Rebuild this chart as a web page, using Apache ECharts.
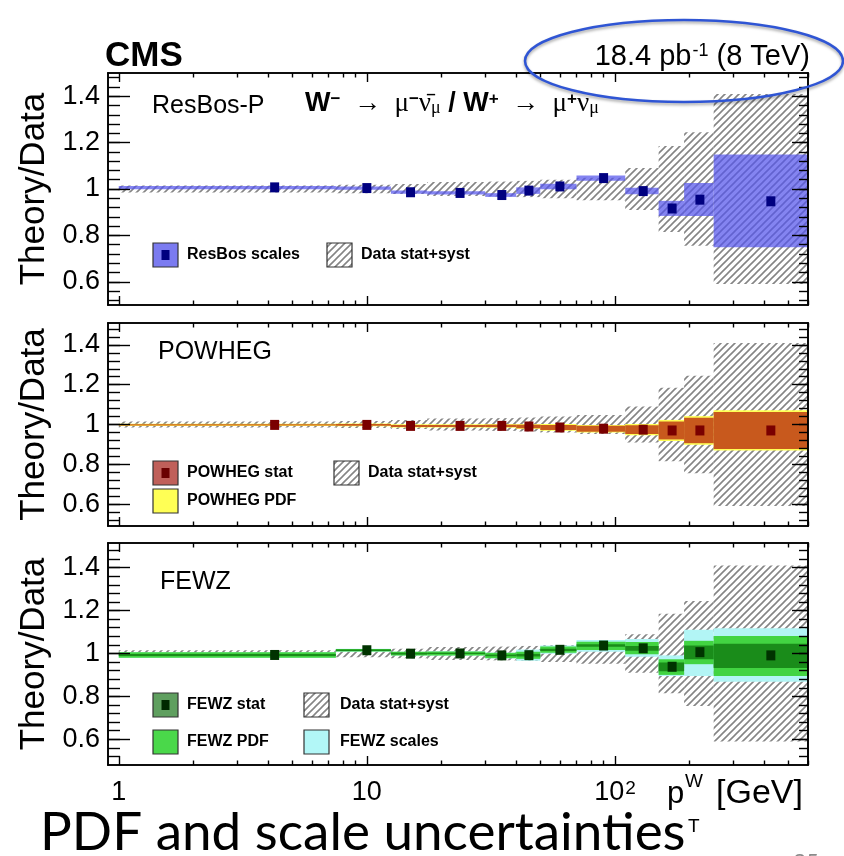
<!DOCTYPE html>
<html>
<head>
<meta charset="utf-8">
<script src="https://cdn.jsdelivr.net/npm/echarts@6/dist/echarts.min.js"></script>
<style>
  html, body { margin: 0; padding: 0; background: #ffffff; }
  #chart { width: 844px; height: 856px; }
</style>
</head>
<body>
<div id="chart"></div>
<script>
// W pT bin edges [GeV]
const binEdges = [1, 7.5, 12.5, 17.5, 30, 40, 50, 70, 110, 150, 190, 250, 600];

// Relative data uncertainty (stat+syst), half width around Theory/Data = 1
const dataRelErr = [0.015, 0.018, 0.022, 0.03, 0.032, 0.035, 0.04, 0.048, 0.09, 0.185, 0.245, 0.41];

// ResBos-P / data
const resbosRatio   = [1.007, 1.004, 0.986, 0.983, 0.974, 0.993, 1.011, 1.047, 0.991, 0.916, 0.954, 0.947];
const resbosScaleLo = [0.999, 0.997, 0.979, 0.976, 0.966, 0.979, 0.999, 1.036, 0.977, 0.884, 0.884, 0.749];
const resbosScaleHi = [1.013, 1.011, 0.993, 0.990, 0.982, 1.007, 1.023, 1.058, 1.005, 0.949, 1.026, 1.149];

// POWHEG / data
const powhegRatio   = [0.998, 0.998, 0.993, 0.993, 0.993, 0.990, 0.985, 0.979, 0.974, 0.970, 0.970, 0.970];
const powhegStatErr = [0.003, 0.004, 0.005, 0.005, 0.006, 0.009, 0.013, 0.015, 0.022, 0.045, 0.064, 0.093];
const powhegPdfErr  = [0.006, 0.007, 0.008, 0.008, 0.009, 0.012, 0.017, 0.019, 0.028, 0.053, 0.072, 0.101];

// FEWZ / data
const fewzRatio   = [0.993, 1.015, 0.999, 1.000, 0.991, 0.992, 1.017, 1.037, 1.024, 0.938, 1.006, 0.991];
const fewzStatLo  = [0.988, 1.012, 0.995, 0.997, 0.987, 0.986, 1.012, 1.031, 1.013, 0.917, 0.973, 0.932];
const fewzStatHi  = [0.998, 1.018, 1.003, 1.003, 0.995, 0.998, 1.022, 1.043, 1.035, 0.958, 1.037, 1.045];
const fewzPdfLo   = [0.980, 1.009, 0.990, 0.991, 0.978, 0.975, 1.003, 1.016, 0.996, 0.900, 0.950, 0.895];
const fewzPdfHi   = [1.006, 1.021, 1.008, 1.009, 1.003, 1.008, 1.032, 1.055, 1.053, 0.973, 1.059, 1.082];
const fewzScaleLo = [0.980, 1.008, 0.990, 0.991, 0.977, 0.966, 0.999, 1.008, 0.985, 0.895, 0.895, 0.868];
const fewzScaleHi = [1.006, 1.022, 1.008, 1.010, 1.004, 1.018, 1.037, 1.063, 1.068, 0.991, 1.111, 1.118];

// Axis ticks and labels
const xTickValues = [1, 10, 100];
const xTickLabels = ['1', '10', '10{s|2}'];
const yTickValues = [0.6, 0.8, 1.0, 1.2, 1.4];
const yTickLabels = ['0.6', '0.8', '1', '1.2', '1.4'];

const FONT = '"Liberation Sans", Arial, Helvetica, sans-serif';
const SERIF = '"Liberation Serif", "DejaVu Serif", serif';
const X_MIN = Math.log10(0.905);
const X_MAX = Math.log10(600);
const LEFT = 108, RIGHT = 36;
const panels = [
  { top: 73,  height: 232, yMin: 0.5,  yMax: 1.5 },
  { top: 323, height: 203, yMin: 0.49, yMax: 1.51 },
  { top: 543, height: 222, yMin: 0.48, yMax: 1.515 }
];

// minor tick positions on the log pT axis (2..9 per decade)
const xMajor = xTickValues.map(v => Math.log10(v));
const xMinor = [];
[1, 10, 100].forEach(d => { for (let k = 2; k <= 9; k++) { if (k * d <= 600) xMinor.push(Math.log10(k * d)); } });
const yMinor = [];
for (let k = 13; k <= 37; k++) yMinor.push(Math.round(k * 4) / 100);

// diagonal hatch pattern for the data uncertainty
function makeHatch(color, step, lw) {
  const c = document.createElement('canvas');
  c.width = step; c.height = step;
  const ctx = c.getContext('2d');
  ctx.strokeStyle = color;
  ctx.lineWidth = lw;
  ctx.beginPath();
  ctx.moveTo(-1, step + 1); ctx.lineTo(step + 1, -1);
  ctx.moveTo(-step / 2 - 1, step / 2 + 1); ctx.lineTo(step / 2 + 1, -step / 2 - 1);
  ctx.moveTo(step / 2 - 1, step * 1.5 + 1); ctx.lineTo(step * 1.5 + 1, step / 2 - 1);
  ctx.stroke();
  return c;
}
const hatchCanvas = makeHatch('#858585', 7, 1.6);
const hatchFill = { image: hatchCanvas, repeat: 'repeat' };

const tickStyle = { color: '#000', width: 1.4 };
const lineStyle = { color: '#000', width: 1.6 };

function xAxesFor(g, withLabels) {
  const base = {
    gridIndex: g, type: 'value', min: X_MIN, max: X_MAX, z: 10,
    splitLine: { show: false },
    axisLine: { show: true, onZero: false, lineStyle: lineStyle }
  };
  const noLabel = { show: false };
  const bottomMajor = Object.assign({}, base, {
    position: 'bottom',
    axisTick: { show: true, inside: true, length: 9, lineStyle: tickStyle, customValues: xMajor },
    axisLabel: withLabels ? {
      show: true, customValues: xMajor, margin: 14,
      fontFamily: FONT, fontSize: 27, color: '#000',
      formatter: v => {
        const i = xMajor.findIndex(t => Math.abs(t - v) < 1e-6);
        return i >= 0 ? xTickLabels[i] : '';
      },
      rich: { s: { fontFamily: FONT, fontSize: 19, verticalAlign: 'top', padding: [0, 0, 0, 1] } }
    } : noLabel
  });
  const bottomMinor = Object.assign({}, base, {
    position: 'bottom',
    axisTick: { show: true, inside: true, length: 4.5, lineStyle: tickStyle, customValues: xMinor },
    axisLabel: noLabel
  });
  const topMajor = Object.assign({}, base, {
    position: 'top',
    axisTick: { show: true, inside: true, length: 9, lineStyle: tickStyle, customValues: xMajor },
    axisLabel: noLabel
  });
  const topMinor = Object.assign({}, base, {
    position: 'top',
    axisTick: { show: true, inside: true, length: 4.5, lineStyle: tickStyle, customValues: xMinor },
    axisLabel: noLabel
  });
  return [bottomMajor, bottomMinor, topMajor, topMinor];
}

function yAxesFor(g) {
  const p = panels[g];
  const base = {
    gridIndex: g, type: 'value', min: p.yMin, max: p.yMax, z: 10,
    splitLine: { show: false },
    axisLine: { show: true, onZero: false, lineStyle: lineStyle }
  };
  const noLabel = { show: false };
  const leftMajor = Object.assign({}, base, {
    position: 'left',
    name: 'Theory/Data', nameLocation: 'middle', nameGap: 56, nameRotate: 90,
    nameTextStyle: { fontFamily: FONT, fontSize: 35, color: '#000' },
    axisTick: { show: true, inside: true, length: 22, lineStyle: tickStyle, customValues: yTickValues },
    axisLabel: {
      show: true, customValues: yTickValues, margin: 8,
      fontFamily: FONT, fontSize: 27, color: '#000',
      formatter: v => {
        const i = yTickValues.findIndex(t => Math.abs(t - v) < 1e-6);
        return i >= 0 ? yTickLabels[i] : '';
      }
    }
  });
  const leftMinor = Object.assign({}, base, {
    position: 'left',
    axisTick: { show: true, inside: true, length: 12, lineStyle: tickStyle, customValues: yMinor },
    axisLabel: noLabel
  });
  const rightMajor = Object.assign({}, base, {
    position: 'right',
    axisTick: { show: true, inside: true, length: 16, lineStyle: tickStyle, customValues: yTickValues },
    axisLabel: noLabel
  });
  const rightMinor = Object.assign({}, base, {
    position: 'right',
    axisTick: { show: true, inside: true, length: 9, lineStyle: tickStyle, customValues: yMinor },
    axisLabel: noLabel
  });
  return [leftMajor, leftMinor, rightMajor, rightMinor];
}

// per-bin rectangles [log x0, log x1, y0, y1]
function binRects(lo, hi) {
  return lo.map((v, i) => [Math.log10(binEdges[i]), Math.log10(binEdges[i + 1]), v, hi[i]]);
}
function bandSeries(g, lo, hi, fill, z) {
  return {
    type: 'custom', coordinateSystem: 'cartesian2d',
    xAxisIndex: g * 4, yAxisIndex: g * 4, z: z, clip: true, silent: true,
    data: binRects(lo, hi),
    renderItem: (params, api) => {
      const a = api.coord([api.value(0), api.value(3)]);
      const b = api.coord([api.value(1), api.value(2)]);
      return {
        type: 'rect',
        shape: { x: a[0], y: a[1], width: b[0] - a[0], height: b[1] - a[1] },
        style: { fill: fill }
      };
    }
  };
}
function markerSeries(g, ratio, color) {
  return {
    type: 'scatter', xAxisIndex: g * 4, yAxisIndex: g * 4, z: 8, silent: true,
    symbol: 'rect', symbolSize: [9, 10],
    itemStyle: { color: color, opacity: 1 },
    data: ratio.map((v, i) => [Math.log10((binEdges[i] + binEdges[i + 1]) / 2), v])
  };
}

const dataLo = dataRelErr.map(e => 1 - e);
const dataHi = dataRelErr.map(e => 1 + e);
const powhegStatLo = powhegRatio.map((v, i) => v - powhegStatErr[i]);
const powhegStatHi = powhegRatio.map((v, i) => v + powhegStatErr[i]);
const powhegPdfLo = powhegRatio.map((v, i) => v - powhegPdfErr[i]);
const powhegPdfHi = powhegRatio.map((v, i) => v + powhegPdfErr[i]);

const series = [
  // ResBos-P panel
  bandSeries(0, dataLo, dataHi, hatchFill, 2),
  bandSeries(0, resbosScaleLo, resbosScaleHi, 'rgba(85,85,235,0.72)', 3),
  markerSeries(0, resbosRatio, '#000080'),
  // POWHEG panel
  bandSeries(1, dataLo, dataHi, hatchFill, 2),
  bandSeries(1, powhegPdfLo, powhegPdfHi, '#ffff55', 3),
  bandSeries(1, powhegStatLo, powhegStatHi, 'rgba(190,60,20,0.85)', 4),
  markerSeries(1, powhegRatio, '#7a0000'),
  // FEWZ panel
  bandSeries(2, dataLo, dataHi, hatchFill, 2),
  bandSeries(2, fewzScaleLo, fewzScaleHi, '#b2f5f5', 3),
  bandSeries(2, fewzPdfLo, fewzPdfHi, '#42d442', 4),
  bandSeries(2, fewzStatLo, fewzStatHi, '#1a8c1a', 5),
  markerSeries(2, fewzRatio, '#003300')
];

// legend entries drawn as boxes with labels
function legendBox(x, y, fill, markerColor) {
  const els = [{
    type: 'rect', z: 20,
    shape: { x: x, y: y, width: 25, height: 24 },
    style: { fill: fill, stroke: '#333', lineWidth: 1.2 }
  }];
  if (markerColor) {
    els.push({
      type: 'rect', z: 21,
      shape: { x: x + 8.5, y: y + 7, width: 8, height: 10 },
      style: { fill: markerColor }
    });
  }
  return els;
}
function legendText(x, y, text) {
  return {
    type: 'text', z: 21,
    style: { x: x, y: y, text: text, fontFamily: FONT, fontSize: 16, fontWeight: 'bold', fill: '#000', verticalAlign: 'middle' }
  };
}
function panelLabel(x, y, text) {
  return {
    type: 'text', z: 21,
    style: { x: x, y: y, text: text, fontFamily: FONT, fontSize: 25, fill: '#000', verticalAlign: 'middle' }
  };
}

const graphics = [].concat(
  // CMS label and luminosity
  [{
    type: 'text', z: 21,
    style: { x: 105, y: 56, text: 'CMS', fontFamily: FONT, fontSize: 35, fontWeight: 'bold', fill: '#000', verticalAlign: 'middle' }
  }, {
    type: 'text', z: 21,
    style: {
      x: 810, y: 57, text: '{n|18.4 pb}{s|-1}{n| (8 TeV)}', align: 'right', verticalAlign: 'middle',
      fontFamily: FONT, fontSize: 29, fill: '#000',
      rich: {
        n: { fontFamily: FONT, fontSize: 29, fill: '#000' },
        s: { fontFamily: FONT, fontSize: 18, fill: '#000', verticalAlign: 'top', padding: [0, 0, 0, 1] }
      }
    }
  }],
  // panel labels
  [panelLabel(152, 106, 'ResBos-P'), panelLabel(158, 352, 'POWHEG'), panelLabel(160, 582, 'FEWZ')],
  // process label
  [{
    type: 'text', z: 21,
    style: {
      x: 305, y: 104, verticalAlign: 'middle',
      text: '{w|W}{sp|−}{g|  →  μ}{sp|−}{g|ν\u0304}{sb|μ}{w| / W}{sp|+}{g|  →  μ}{sp|+}{g|ν}{sb|μ}',
      fontFamily: FONT, fontSize: 26, fill: '#000',
      rich: {
        w: { fontFamily: FONT, fontSize: 27, fontWeight: 'bold', fill: '#000' },
        g: { fontFamily: SERIF, fontSize: 27, fill: '#000' },
        sp: { fontFamily: FONT, fontSize: 17, fontWeight: 'bold', fill: '#000', verticalAlign: 'top' },
        sb: { fontFamily: SERIF, fontSize: 18, fill: '#000', verticalAlign: 'bottom' }
      }
    }
  }],
  // ResBos legend
  legendBox(153, 243, '#7b7bf0', '#000080'),
  [legendText(187, 255, 'ResBos scales')],
  legendBox(327, 243, hatchFill, null),
  [legendText(361, 255, 'Data stat+syst')],
  // POWHEG legend
  legendBox(153, 461, '#c0605a', '#6a0000'),
  [legendText(187, 473, 'POWHEG stat')],
  legendBox(334, 461, hatchFill, null),
  [legendText(368, 473, 'Data stat+syst')],
  legendBox(153, 489, '#ffff55', null),
  [legendText(187, 501, 'POWHEG PDF')],
  // FEWZ legend
  legendBox(153, 693, '#5f9f5f', '#002800'),
  [legendText(187, 705, 'FEWZ stat')],
  legendBox(304, 693, hatchFill, null),
  [legendText(340, 705, 'Data stat+syst')],
  legendBox(153, 730, '#4ad84a', null),
  [legendText(187, 742, 'FEWZ PDF')],
  legendBox(304, 730, '#b2f7f7', null),
  [legendText(340, 742, 'FEWZ scales')],
  // x-axis title
  [{
    type: 'text', z: 21,
    style: { x: 667, y: 794, text: 'p', fontFamily: FONT, fontSize: 31, fill: '#000', verticalAlign: 'middle' }
  }, {
    type: 'text', z: 21,
    style: { x: 685, y: 782, text: 'W', fontFamily: FONT, fontSize: 19, fill: '#000', verticalAlign: 'middle' }
  }, {
    type: 'text', z: 21,
    style: { x: 688, y: 827, text: 'T', fontFamily: FONT, fontSize: 19, fill: '#000', verticalAlign: 'middle' }
  }, {
    type: 'text', z: 21,
    style: { x: 716, y: 794, text: '[GeV]', fontFamily: FONT, fontSize: 34, fill: '#000', verticalAlign: 'middle' }
  }],
  // slide caption and page number
  [{
    type: 'text', z: 21,
    style: { x: 40, y: 833, text: 'PDF and scale uncertainties', fontFamily: 'Lato, "Open Sans", sans-serif', fontSize: 53, fill: '#000', verticalAlign: 'middle' }
  }, {
    type: 'text', z: 21,
    style: { x: 806, y: 851, text: '25', fontFamily: 'Lato, sans-serif', fontSize: 22, fill: '#8a8a8a', align: 'center', verticalAlign: 'top' }
  }],
  // highlight ellipse around the luminosity label
  [{
    type: 'ellipse', z: 30,
    shape: { cx: 684, cy: 61, rx: 159, ry: 41 },
    style: { fill: 'none', stroke: '#2f55d4', lineWidth: 2.5, shadowBlur: 3, shadowColor: 'rgba(0,0,0,0.35)', shadowOffsetY: 2 }
  }]
);

const option = {
  backgroundColor: '#ffffff',
  animation: false,
  grid: panels.map(p => ({ left: LEFT, right: RIGHT, top: p.top, height: p.height, show: false })),
  xAxis: [].concat(xAxesFor(0, false), xAxesFor(1, false), xAxesFor(2, true)),
  yAxis: [].concat(yAxesFor(0), yAxesFor(1), yAxesFor(2)),
  series: series,
  graphic: graphics
};

const chart = echarts.init(document.getElementById('chart'), null, { renderer: 'canvas' });
chart.setOption(option);
</script>
</body>
</html>
